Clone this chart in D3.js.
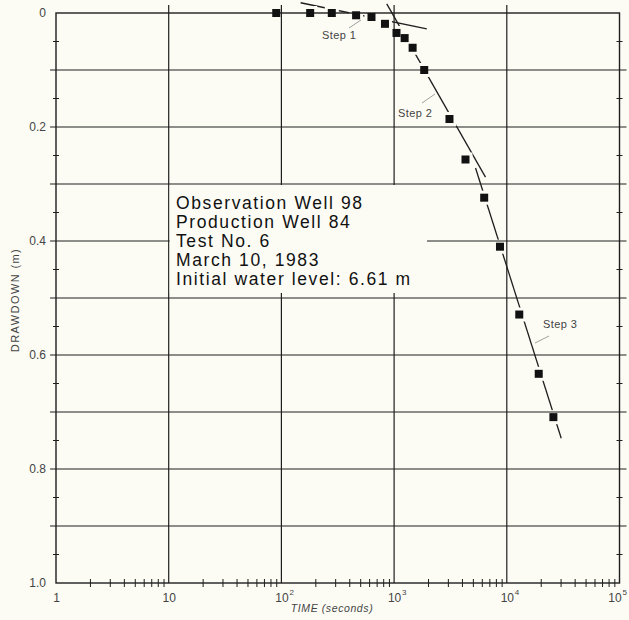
<!DOCTYPE html>
<html>
<head>
<meta charset="utf-8">
<script src="https://cdn.jsdelivr.net/npm/d3@7"></script>
<style>
  body { margin: 0; background: #fcfcf5; }
  svg { display: block; font-family: "Liberation Sans", Arial, sans-serif; }
</style>
</head>
<body>
<div id="chart"></div>
<script>
const timeSec = [90, 180, 280, 460, 630, 830, 1050, 1240, 1460, 1850, 3100, 4300, 6300, 8700, 12900, 19200, 25900];
const drawdown = [0, 0, 0, 0.004, 0.007, 0.019, 0.035, 0.044, 0.061, 0.1, 0.186, 0.257, 0.324, 0.41, 0.529, 0.633, 0.709];

// straight-line fits for each pumping step (start / end)
const stepNames = ["Step 1", "Step 2", "Step 3"];
const stepT0 = [148, 861, 5280];
const stepT1 = [1950, 6470, 30400];
const stepD0 = [-0.018, -0.016, 0.272];
const stepD1 = [0.028, 0.288, 0.746];

const yTicks = [0, 0.2, 0.4, 0.6, 0.8, 1.0];
const yTickLabels = ["0", "0.2", "0.4", "0.6", "0.8", "1.0"];
const xTicks = [1, 10, 100, 1000, 10000, 100000];
const xTickLabels = ["1", "10", "10", "10", "10", "10"];
const xTickExp = ["", "", "2", "3", "4", "5"];

const infoLines = [
  "Observation Well 98",
  "Production Well 84",
  "Test No. 6",
  "March 10, 1983",
  "Initial water level: 6.61 m"
];

const width = 629;
const height = 620;
const bg = "#fcfcf5";
const ink = "#1e1e1e";

const x = d3.scaleLog().domain([1, 1e5]).range([56, 619.5]);
const y = d3.scaleLinear().domain([0, 1]).range([13, 583]);

const svg = d3
  .select("#chart")
  .append("svg")
  .attr("width", width)
  .attr("height", height);

svg.append("rect").attr("width", width).attr("height", height).attr("fill", bg);

// grid
const hGrid = d3.range(1, 10).map(i => i / 10);
svg
  .append("g")
  .selectAll("line")
  .data(hGrid)
  .enter()
  .append("line")
  .attr("x1", x(1) - 6)
  .attr("x2", x(1e5) + 7)
  .attr("y1", d => y(d))
  .attr("y2", d => y(d))
  .attr("stroke", ink)
  .attr("stroke-width", 1.2);

svg
  .append("g")
  .selectAll("line")
  .data([10, 100, 1000, 10000])
  .enter()
  .append("line")
  .attr("x1", d => x(d))
  .attr("x2", d => x(d))
  .attr("y1", y(0) - 8)
  .attr("y2", y(1))
  .attr("stroke", ink)
  .attr("stroke-width", 1.2);

// blank area behind the well description
svg
  .append("rect")
  .attr("x", x(10) + 1)
  .attr("y", y(0.3) + 1)
  .attr("width", 427 - x(10) - 1)
  .attr("height", 293 - y(0.3) - 1)
  .attr("fill", bg);

// frame
svg
  .append("rect")
  .attr("x", x(1))
  .attr("y", y(0))
  .attr("width", x(1e5) - x(1))
  .attr("height", y(1) - y(0))
  .attr("fill", "none")
  .attr("stroke", ink)
  .attr("stroke-width", 1.4);

// minor ticks, left and right
const yMinor = d3.range(0, 10).map(i => i / 10 + 0.05);
[x(1), x(1e5)].forEach(px => {
  svg
    .append("g")
    .selectAll("line")
    .data(yMinor)
    .enter()
    .append("line")
    .attr("x1", px - 3)
    .attr("x2", px + 3)
    .attr("y1", d => y(d))
    .attr("y2", d => y(d))
    .attr("stroke", ink)
    .attr("stroke-width", 1);
});

// minor ticks along the time axis
const xMinor = [];
for (let e = 0; e < 5; e++) {
  for (let k = 2; k < 10; k++) xMinor.push(k * Math.pow(10, e));
}
svg
  .append("g")
  .attr("transform", "translate(0," + (y(1) - 4) + ")")
  .call(d3.axisBottom(x).tickValues(xMinor).tickSize(8).tickFormat(""))
  .call(g => g.select(".domain").remove())
  .call(g => g.selectAll("line").attr("stroke", ink).attr("stroke-width", 1));

// tick labels
const yAxis = svg
  .append("g")
  .attr("transform", "translate(" + x(1) + ",0)")
  .call(
    d3
      .axisLeft(y)
      .tickValues(yTicks)
      .tickSize(0)
      .tickPadding(10)
      .tickFormat((d, i) => yTickLabels[i])
  );
yAxis.select(".domain").remove();
yAxis
  .selectAll("text")
  .attr("fill", "#444")
  .attr("font-size", 12)
  .attr("font-family", "Liberation Sans, Arial, sans-serif");

const xAxis = svg
  .append("g")
  .attr("transform", "translate(0," + y(1) + ")")
  .call(
    d3
      .axisBottom(x)
      .tickValues(xTicks)
      .tickSize(0)
      .tickPadding(10)
      .tickFormat((d, i) => xTickLabels[i])
  );
xAxis.select(".domain").remove();
xAxis
  .selectAll("text")
  .attr("fill", "#444")
  .attr("font-size", 12)
  .attr("font-family", "Liberation Sans, Arial, sans-serif");
xAxis
  .selectAll(".tick")
  .append("text")
  .attr("x", 7.5)
  .attr("y", 12)
  .attr("fill", "#444")
  .attr("font-size", 8)
  .attr("font-family", "Liberation Sans, Arial, sans-serif")
  .attr("text-anchor", "start")
  .text((d, i) => xTickExp[i]);
// the last label sits on the page edge: nudge it in so it stays whole
xAxis
  .selectAll(".tick")
  .filter(d => d === 1e5)
  .selectAll("text")
  .attr("transform", "translate(-5,0)");

// axis titles
svg
  .append("text")
  .attr("transform", "translate(" + 19 + "," + 300 + ") rotate(-90)")
  .attr("text-anchor", "middle")
  .attr("fill", "#444")
  .attr("font-size", 11)
  .attr("letter-spacing", 1.4)
  .text("DRAWDOWN (m)");

svg
  .append("text")
  .attr("x", 332)
  .attr("y", 612)
  .attr("text-anchor", "middle")
  .attr("fill", "#444")
  .attr("font-size", 10.5)
  .attr("font-style", "italic")
  .attr("letter-spacing", 0.6)
  .text("TIME (seconds)");

// cut the fitted lines around each marker
const defs = svg.append("defs");
const mask = defs
  .append("mask")
  .attr("id", "gaps")
  .attr("maskUnits", "userSpaceOnUse")
  .attr("x", 0)
  .attr("y", 0)
  .attr("width", width)
  .attr("height", height);
mask.append("rect").attr("width", width).attr("height", height).attr("fill", "#fff");
mask
  .selectAll("rect.hole")
  .data(timeSec)
  .enter()
  .append("rect")
  .attr("class", "hole")
  .attr("x", d => x(d) - 7)
  .attr("y", (d, i) => y(drawdown[i]) - 7)
  .attr("width", 14)
  .attr("height", 14)
  .attr("fill", "#000");

svg
  .append("g")
  .attr("mask", "url(#gaps)")
  .selectAll("line")
  .data(stepNames)
  .enter()
  .append("line")
  .attr("x1", (d, i) => x(stepT0[i]))
  .attr("y1", (d, i) => y(stepD0[i]))
  .attr("x2", (d, i) => x(stepT1[i]))
  .attr("y2", (d, i) => y(stepD1[i]))
  .attr("stroke", ink)
  .attr("stroke-width", 1.3);

// data points
svg
  .append("g")
  .selectAll("rect")
  .data(timeSec)
  .enter()
  .append("rect")
  .attr("x", d => x(d) - 4)
  .attr("y", (d, i) => y(drawdown[i]) - 4)
  .attr("width", 8)
  .attr("height", 8)
  .attr("fill", "#111");

// step labels with leader lines
const stepLabelPos = [[322, 39], [398, 117], [543, 328]];
const stepLeader = [[349, 28, 361, 20], [422, 103, 435, 94], [535, 343, 549, 336]];
svg
  .append("g")
  .selectAll("text")
  .data(stepNames)
  .enter()
  .append("text")
  .attr("x", (d, i) => stepLabelPos[i][0])
  .attr("y", (d, i) => stepLabelPos[i][1])
  .attr("fill", "#444")
  .attr("font-size", 11)
  .attr("letter-spacing", 0.4)
  .text(d => d);
svg
  .append("g")
  .selectAll("line")
  .data(stepLeader)
  .enter()
  .append("line")
  .attr("x1", d => d[0])
  .attr("y1", d => d[1])
  .attr("x2", d => d[2])
  .attr("y2", d => d[3])
  .attr("stroke", "#888")
  .attr("stroke-width", 0.8);

// well description
svg
  .append("g")
  .selectAll("text")
  .data(infoLines)
  .enter()
  .append("text")
  .attr("x", 176)
  .attr("y", (d, i) => 209 + i * 19)
  .attr("fill", "#111")
  .attr("font-size", 17.5)
  .attr("letter-spacing", 1.6)
  .text(d => d);
</script>
</body>
</html>
